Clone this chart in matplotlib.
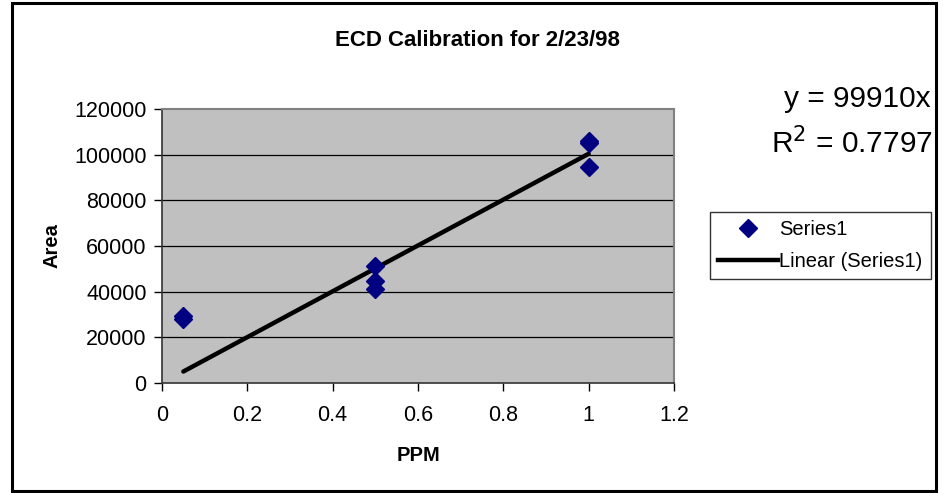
import numpy as np
import matplotlib.pyplot as plt
from matplotlib.patches import Rectangle
from matplotlib.lines import Line2D

plt.rcParams['font.family'] = ['Liberation Sans', 'DejaVu Sans']

# calibration standards (ppm) and detector response (area counts)
ppm = [0.05, 0.05, 0.5, 0.5, 0.5, 1.0, 1.0, 1.0]
area = [29500, 28000, 51400, 44800, 41200, 105800, 105100, 94500]

xticks = [0, 0.2, 0.4, 0.6, 0.8, 1, 1.2]
xtick_labels = ['0', '0.2', '0.4', '0.6', '0.8', '1', '1.2']
yticks = [0, 20000, 40000, 60000, 80000, 100000, 120000]

eq_text = 'y = 99910x'
r2_text = r'R$^2$ = 0.7797'

fig = plt.figure(figsize=(9.43, 4.93), dpi=100)
ax = fig.add_axes([162 / 943, 1 - 383 / 493, 512 / 943, 274 / 493])

# chart area border
fig.patches.append(Rectangle((12 / 943, 2 / 493), 924 / 943, 488 / 493,
                             transform=fig.transFigure, fill=False,
                             edgecolor='black', linewidth=2.2))

ax.set_facecolor('#C0C0C0')
for h in yticks[1:-1]:
    ax.axhline(h, color='black', linewidth=0.9, zorder=1)

# linear trendline forced through origin
x = np.array(ppm)
y = np.array(area)
slope = np.sum(x * y) / np.sum(x * x)
xfit = np.array([x.min(), x.max()])
ax.plot(xfit, slope * xfit, color='black', linewidth=3.2,
        solid_capstyle='round', zorder=3)

ax.plot(ppm, area, linestyle='none', marker='D', markersize=9.5,
        color='#000080', zorder=4)

ax.set_xlim(0, 1.2)
ax.set_ylim(0, 120000)
ax.set_xticks(xticks)
ax.set_xticklabels(xtick_labels)
ax.set_yticks(yticks)
ax.set_yticklabels([str(t) for t in yticks])
ax.tick_params(direction='out', length=6, width=1, labelsize=15.5,
               colors='black')
ax.tick_params(axis='x', pad=10)
ax.tick_params(axis='y', pad=5)

for s in ['top', 'right']:
    ax.spines[s].set_color('#808080')
    ax.spines[s].set_linewidth(1.5)
for s in ['left', 'bottom']:
    ax.spines[s].set_color('#333333')
    ax.spines[s].set_linewidth(1.2)

ax.set_xlabel('PPM', fontsize=14.5, fontweight='bold', labelpad=14)
ax.set_ylabel('Area', fontsize=14.5, fontweight='bold', labelpad=9)
fig.text(477 / 943, 1 - 41 / 493, 'ECD Calibration for 2/23/98',
         ha='center', va='center', fontsize=16, fontweight='bold')

fig.text(931 / 943, 1 - 99 / 493, eq_text, ha='right', va='center',
         fontsize=21.5)
fig.text(933 / 943, 1 - 143 / 493, r2_text, ha='right', va='center',
         fontsize=21.5)

handles = [
    Line2D([], [], linestyle='none', marker='D', markersize=9.5,
           color='#000080'),
    Line2D([], [], color='black', linewidth=3.2),
]
leg = fig.legend(handles, ['Series1', 'Linear (Series1)'],
                 loc='upper left', bbox_to_anchor=(710 / 943, 1 - 212 / 493),
                 fontsize=14.5, frameon=True, fancybox=False,
                 edgecolor='black', handlelength=3.0, handletextpad=0.05,
                 borderpad=0.4, labelspacing=0.65, borderaxespad=0)
leg.get_frame().set_linewidth(1)

fig.savefig('out.png', dpi=100)
